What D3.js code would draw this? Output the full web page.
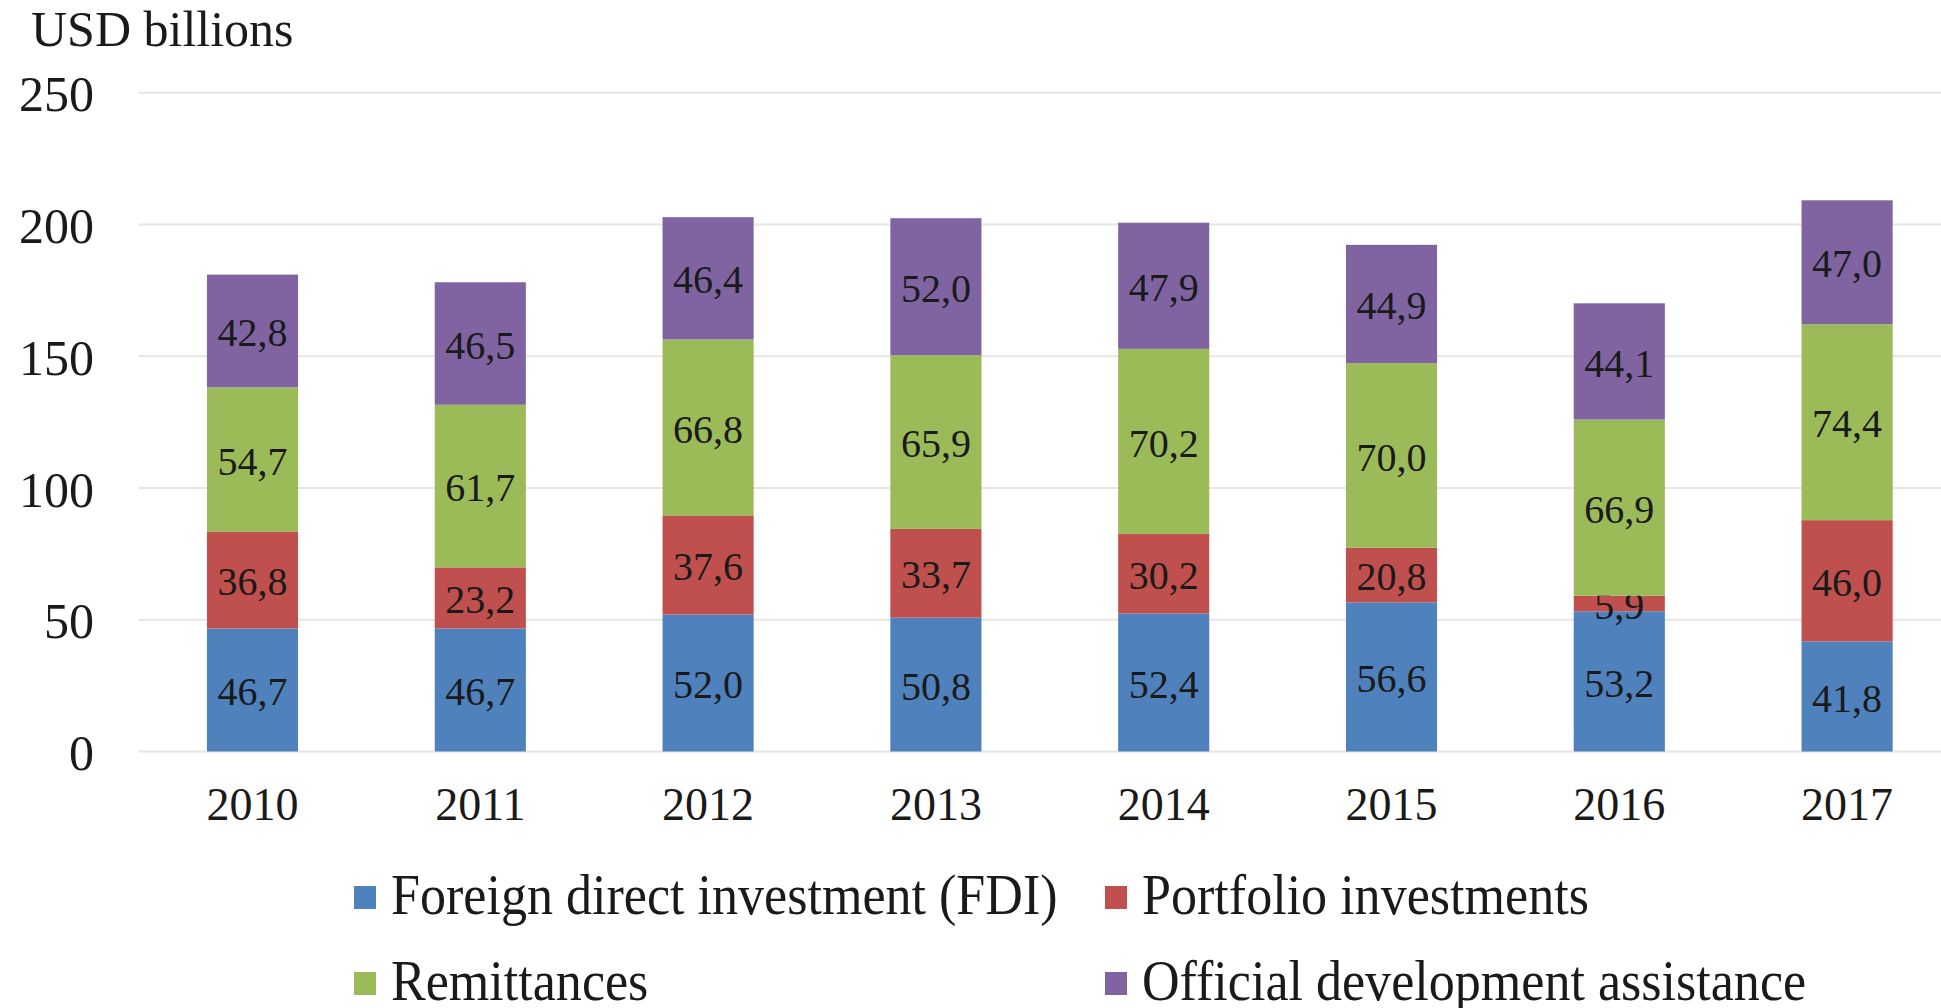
<!DOCTYPE html>
<html>
<head>
<meta charset="utf-8">
<script src="https://cdn.jsdelivr.net/npm/d3@7"></script>
<style>
  body { margin: 0; background: #fff; }
  svg { display: block; font-family: 'Liberation Serif', 'DejaVu Serif', serif; }
</style>
</head>
<body>
<div id="chart"></div>
<script>
const years = ['2010', '2011', '2012', '2013', '2014', '2015', '2016', '2017'];
const seriesNames = ['Foreign direct investment (FDI)', 'Portfolio investments', 'Remittances', 'Official development assistance'];
const fdi = [46.7, 46.7, 52.0, 50.8, 52.4, 56.6, 53.2, 41.8];
const portfolio = [36.8, 23.2, 37.6, 33.7, 30.2, 20.8, 5.9, 46.0];
const remittances = [54.7, 61.7, 66.8, 65.9, 70.2, 70.0, 66.9, 74.4];
const oda = [42.8, 46.5, 46.4, 52.0, 47.9, 44.9, 44.1, 47.0];
const yTicks = [0, 50, 100, 150, 200, 250];
const colors = ['#4F81BD', '#C0504D', '#9BBB59', '#8064A2'];

const width = 1941;
const height = 1008;

const keys = ['fdi', 'portfolio', 'remittances', 'oda'];
const table = years.map((y, i) => ({
    year: y,
    fdi: fdi[i],
    portfolio: portfolio[i],
    remittances: remittances[i],
    oda: oda[i]
}));

const stacked = d3.stack().keys(keys)(table);

const svg = d3.select('#chart')
    .append('svg')
    .attr('width', width)
    .attr('height', height);

const xScale = d3.scaleBand()
    .domain(years)
    .range([138.6, 138.6 + 8 * 227.8])
    .paddingInner(0.6)
    .paddingOuter(0.3);

const yScale = d3.scaleLinear()
    .domain([0, 250])
    .range([751.5, 92.8]);

const fmt = v => d3.format('.1f')(v).replace('.', ',');

// gridlines
svg.append('g')
    .selectAll('line')
    .data(yTicks)
    .enter()
    .append('line')
    .attr('x1', 138.6)
    .attr('x2', width)
    .attr('y1', d => yScale(d))
    .attr('y2', d => yScale(d))
    .attr('stroke', '#e6e6e6')
    .attr('stroke-width', 2);

// y axis labels
const yAxis = svg.append('g')
    .attr('transform', 'translate(94,0)')
    .call(d3.axisLeft(yScale).tickValues(yTicks).tickSize(0).tickPadding(0));
yAxis.select('.domain').remove();
yAxis.selectAll('text')
    .attr('font-family', "'Liberation Serif', serif")
    .attr('font-size', 50)
    .attr('fill', '#1a1a1a')
    .attr('dy', '0.36em');

// title
svg.append('text')
    .attr('x', 31)
    .attr('y', 46)
    .attr('font-size', 50)
    .attr('fill', '#1a1a1a')
    .text('USD billions');

// bars
const layer = svg.selectAll('.layer')
    .data(stacked)
    .enter()
    .append('g')
    .attr('class', 'layer')
    .attr('fill', (d, i) => colors[i]);

layer.selectAll('rect')
    .data(d => d)
    .enter()
    .append('rect')
    .attr('x', d => xScale(d.data.year))
    .attr('width', xScale.bandwidth())
    .attr('y', d => yScale(d[1]))
    .attr('height', d => yScale(d[0]) - yScale(d[1]));

layer.selectAll('text')
    .data(d => d)
    .enter()
    .append('text')
    .attr('x', d => xScale(d.data.year) + xScale.bandwidth() / 2)
    .attr('y', d => (yScale(d[0]) + yScale(d[1])) / 2)
    .attr('dy', '0.38em')
    .attr('text-anchor', 'middle')
    .attr('font-size', 40)
    .attr('fill', '#1a1a1a')
    .text(d => fmt(d[1] - d[0]));

// x axis labels
const xAxis = svg.append('g')
    .attr('transform', 'translate(0,788)')
    .call(d3.axisBottom(xScale).tickSize(0).tickPadding(0));
xAxis.select('.domain').remove();
xAxis.selectAll('text')
    .attr('font-family', "'Liberation Serif', serif")
    .attr('font-size', 46)
    .attr('fill', '#1a1a1a')
    .attr('dy', '0.7em');

// legend
const legendPos = [
    { x: 354, y: 886 },
    { x: 1105, y: 886 },
    { x: 354, y: 972 },
    { x: 1105, y: 972 }
];

const legend = svg.selectAll('.legend')
    .data(seriesNames)
    .enter()
    .append('g')
    .attr('class', 'legend')
    .attr('transform', (d, i) => `translate(${legendPos[i].x}, ${legendPos[i].y})`);

legend.append('rect')
    .attr('width', 22)
    .attr('height', 23)
    .attr('fill', (d, i) => colors[i]);

legend.append('text')
    .attr('transform', 'translate(37, 28) scale(0.93, 1)')
    .attr('font-size', 56)
    .attr('fill', '#1a1a1a')
    .text(d => d);
</script>
</body>
</html>
